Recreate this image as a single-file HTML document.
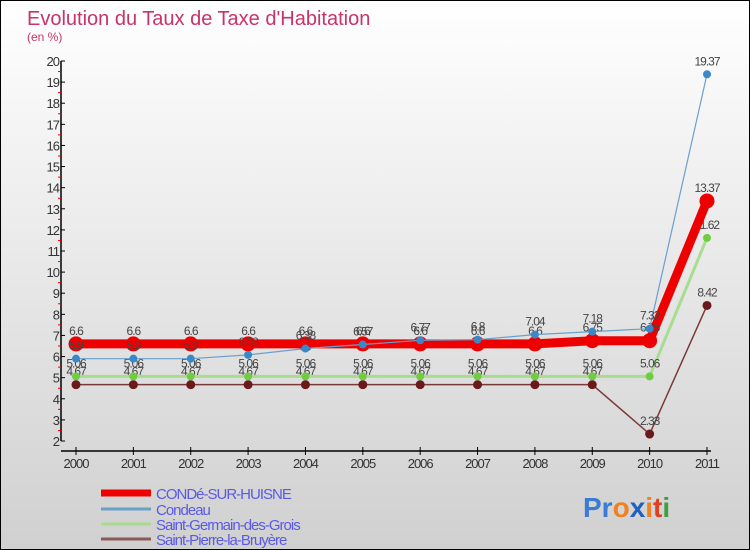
<!DOCTYPE html>
<html><head><meta charset="utf-8"><style>
body{margin:0;}
#wrap{position:relative;width:748px;height:548px;border:1px solid #000;background:linear-gradient(#ffffff,#d0d0d0);font-family:"Liberation Sans",sans-serif;overflow:hidden}
svg text{font-family:"Liberation Sans",sans-serif}
</style></head><body>
<div id="wrap">
<svg id="chart" width="748" height="548">
<text x="26" y="24" font-size="20" fill="#c8336a">Evolution du Taux de Taxe d'Habitation</text>
<text x="26" y="40" font-size="12" fill="#c8336a">(en %)</text>
<g id="axes"></g>
<g id="series"></g>
<g id="legend"></g>
<text x="582" y="516" font-size="28" font-weight="bold"><tspan fill="#3a7bd5">Pr</tspan><tspan fill="#f08020">o</tspan><tspan fill="#2060c0">x</tspan><tspan fill="#f08020">i</tspan><tspan fill="#e04020">t</tspan><tspan fill="#40a040">i</tspan></text>
</svg>
</div>
<script>
const years=["2000","2001","2002","2003","2004","2005","2006","2007","2008","2009","2010","2011"];
const conde=[6.6,6.6,6.6,6.6,6.6,6.6,6.6,6.6,6.6,6.75,6.75,13.37];
const condeau=[5.9,5.9,5.9,6.08,6.38,6.57,6.77,6.8,7.04,7.18,7.32,19.37];
const germain=[5.06,5.06,5.06,5.06,5.06,5.06,5.06,5.06,5.06,5.06,5.06,11.62];
const pierre=[4.67,4.67,4.67,4.67,4.67,4.67,4.67,4.67,4.67,4.67,2.33,8.42];
const yTicks=[2,3,4,5,6,7,8,9,10,11,12,13,14,15,16,17,18,19,20];
const names=["CONDé-SUR-HUISNE","Condeau","Saint-Germain-des-Grois","Saint-Pierre-la-Bruyère"];
const NS="http://www.w3.org/2000/svg";
function X(i){return 75+i*(706-75)/11;}
function Y(v){return 440-(v-2)*(380/18);}
function mk(t,a,p){const e=document.createElementNS(NS,t);for(const k in a)e.setAttribute(k,a[k]);p.appendChild(e);return e;}
const ax=document.getElementById('axes');
let l=mk('line',{x1:60,y1:Y(20),x2:60,y2:440,stroke:'#000','stroke-width':1.5},ax);


l=mk('line',{x1:60,y1:450,x2:710,y2:450,stroke:'#000','stroke-width':1.5},ax);


yTicks.forEach(v=>{
 mk('line',{x1:60,y1:Y(v),x2:64,y2:Y(v),stroke:'#000'},ax);
 if(v<20)mk('line',{x1:57,y1:Y(v+0.5),x2:60,y2:Y(v+0.5),stroke:'#e00'},ax);
 const t=mk('text',{x:58,y:Y(v)+5,'font-size':13,'text-anchor':'end',fill:'#333','letter-spacing':'-1'},ax);
 t.textContent=v;
 
 
});
years.forEach((y,i)=>{
 mk('line',{x1:X(i),y1:446,x2:X(i),y2:454,stroke:'#000'},ax);
 const t=mk('text',{x:X(i),y:467,'font-size':13,'text-anchor':'middle',fill:'#333','letter-spacing':'-1'},ax);
 t.textContent=y;
 
 
});
const sg=document.getElementById('series');
const defs=[[pierre,'#7a3a3a','#6a1a1a',1.5,4.5,'series-saint-pierre'],[germain,'#a8dc90','#70cc40',3,4,'series-saint-germain'],[conde,'#ee0000','#ee0000',9,7.5,'series-conde'],[condeau,'#6aa0d0','#3a88c8',1.2,4,'series-condeau']];
defs.forEach(d=>{
 const g=mk('g',{},sg);
 
 
 const p=mk('polyline',{points:d[0].map((v,i)=>X(i)+','+Y(v)).join(' '),fill:'none',stroke:d[1],'stroke-width':d[3],'stroke-linejoin':'round'},g);
 
 
 d[0].forEach((v,i)=>{
  const c=mk('circle',{cx:X(i),cy:Y(v),r:d[4],fill:d[2]},g);
  
  
  const t=mk('text',{x:X(i),y:Y(v)-9,'font-size':12,'text-anchor':'middle',fill:'#444','letter-spacing':'-1'},g);
  t.textContent=v;
  
  
 });
});
const lg=document.getElementById('legend');
const lc=['#ee0000','#6aa0c8','#a8dc90','#8a5a5a'],lw=[7,3,3,3],ly=[492,508,523,538];
names.forEach((n,i)=>{
 const g=mk('g',{},lg);
 
 
 mk('line',{x1:100,y1:ly[i],x2:150,y2:ly[i],stroke:lc[i],'stroke-width':lw[i]},g);
 const t=mk('text',{x:155,y:ly[i]+6,'font-size':15,fill:'#5a5ae6','letter-spacing':'-1'},g);
 t.textContent=n;
});
</script>
</body></html>
